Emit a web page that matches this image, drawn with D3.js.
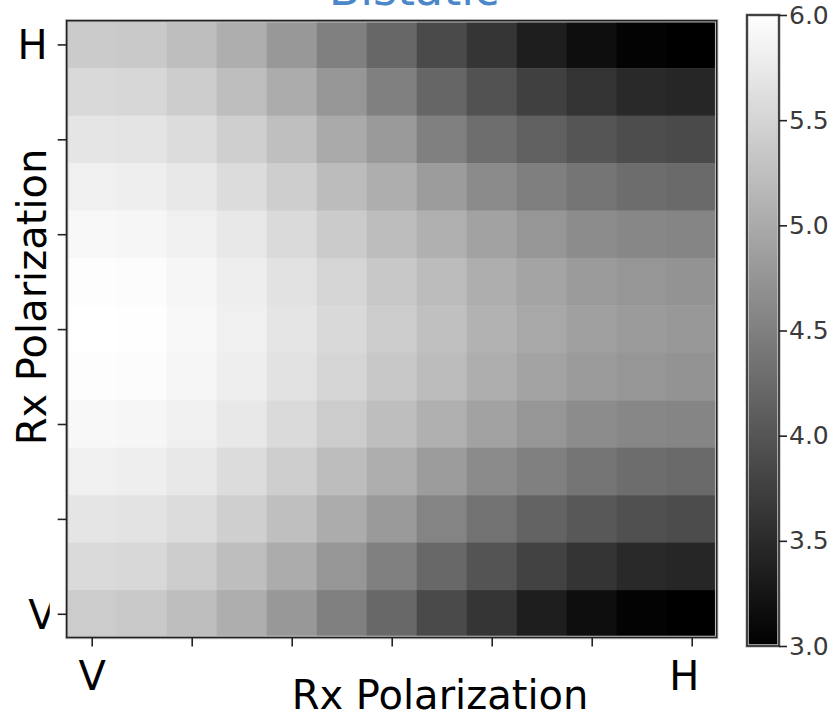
<!DOCTYPE html>
<html>
<head>
<meta charset="utf-8">
<script src="https://cdn.jsdelivr.net/npm/d3@7/dist/d3.min.js"></script>
<style>
  html, body { margin: 0; padding: 0; background: #fff; }
  svg { display: block; }
  text { font-family: "DejaVu Sans", sans-serif; }
</style>
</head>
<body>
<svg id="chart" width="834" height="719"></svg>
<script>
// heatmap values, rows listed top (H) to bottom (V), columns V -> H
const grid = [
  [5.39, 5.36, 5.24, 5.05, 4.79, 4.51, 4.21, 3.87, 3.62, 3.35, 3.16, 3.04, 3.00],
  [5.55, 5.53, 5.41, 5.24, 5.02, 4.76, 4.51, 4.20, 3.96, 3.75, 3.60, 3.48, 3.45],
  [5.69, 5.68, 5.59, 5.43, 5.25, 5.00, 4.81, 4.51, 4.29, 4.13, 4.00, 3.91, 3.87],
  [5.82, 5.80, 5.73, 5.59, 5.42, 5.21, 5.05, 4.84, 4.64, 4.49, 4.38, 4.28, 4.25],
  [5.92, 5.89, 5.82, 5.73, 5.56, 5.39, 5.22, 5.07, 4.91, 4.76, 4.65, 4.59, 4.56],
  [5.98, 5.96, 5.89, 5.80, 5.66, 5.51, 5.35, 5.21, 5.05, 4.93, 4.82, 4.76, 4.73],
  [6.00, 5.99, 5.92, 5.82, 5.69, 5.55, 5.40, 5.26, 5.09, 4.98, 4.88, 4.82, 4.79],
  [5.98, 5.96, 5.89, 5.80, 5.66, 5.51, 5.35, 5.21, 5.05, 4.92, 4.82, 4.76, 4.73],
  [5.92, 5.89, 5.82, 5.73, 5.56, 5.40, 5.24, 5.07, 4.91, 4.76, 4.65, 4.59, 4.56],
  [5.82, 5.80, 5.73, 5.59, 5.42, 5.22, 5.05, 4.84, 4.64, 4.51, 4.38, 4.28, 4.25],
  [5.69, 5.67, 5.59, 5.44, 5.25, 5.02, 4.81, 4.55, 4.34, 4.16, 4.04, 3.94, 3.89],
  [5.56, 5.54, 5.41, 5.24, 5.02, 4.76, 4.51, 4.22, 3.99, 3.78, 3.61, 3.48, 3.45],
  [5.40, 5.37, 5.24, 5.05, 4.79, 4.51, 4.22, 3.87, 3.62, 3.35, 3.16, 3.04, 3.00]
];
const xTickLabels = ['V', '', '', '', '', '', 'H'];
const yTickLabels = ['H', '', '', '', '', '', 'V'];
const colorTicks = [3.0, 3.5, 4.0, 4.5, 5.0, 5.5, 6.0];
const colorDomain = [3, 6];
const title = 'Bistatic';
const axisLabel = 'Rx Polarization';

const svg = d3.select('#chart');

const plot = { left: 66.7, right: 716.7, top: 20.7, bottom: 637.5 };
const cbar = { left: 747, right: 779, top: 15, bottom: 646 };

const nCols = grid[0].length;
const nRows = grid.length;

const x = d3.scaleBand().domain(d3.range(nCols)).range([plot.left, plot.right]);
const y = d3.scaleBand().domain(d3.range(nRows)).range([plot.top, plot.bottom]);
const color = d3.scaleLinear().domain(colorDomain).range(['#000', '#fff']).clamp(true);

// cells
const cells = [];
grid.forEach((row, r) => row.forEach((v, c) => cells.push({ r, c, v })));

svg.append('g').attr('class', 'cells')
  .selectAll('rect')
  .data(cells)
  .join('rect')
  .attr('x', d => x(d.c))
  .attr('y', d => y(d.r))
  .attr('width', x.bandwidth() + 0.5)
  .attr('height', y.bandwidth() + 0.5)
  .attr('fill', d => color(d.v));

// frame with soft halo
function frame(b) {
  svg.append('rect')
    .attr('x', b.left).attr('y', b.top)
    .attr('width', b.right - b.left).attr('height', b.bottom - b.top)
    .attr('fill', 'none').attr('stroke', '#c8c8c8').attr('stroke-width', 3.5);
  svg.append('rect')
    .attr('x', b.left).attr('y', b.top)
    .attr('width', b.right - b.left).attr('height', b.bottom - b.top)
    .attr('fill', 'none').attr('stroke', '#222').attr('stroke-width', 1.6);
}
frame(plot);

// ticks every other cell
const tickIdx = d3.range(0, nCols, 2);
const xAxis = d3.axisBottom(d3.scaleLinear().domain([0, nCols - 1])
    .range([x(0) + x.bandwidth() / 2, x(nCols - 1) + x.bandwidth() / 2]))
  .tickValues(tickIdx)
  .tickSize(9)
  .tickFormat((d, i) => xTickLabels[i]);

const gx = svg.append('g')
  .attr('transform', `translate(0,${plot.bottom})`)
  .call(xAxis);
gx.select('.domain').remove();
gx.selectAll('line').attr('stroke', '#222').attr('stroke-width', 1.6);
gx.selectAll('text')
  .attr('y', 52).attr('dy', 0)
  .attr('fill', '#000')
  .style('font-size', '40px');
gx.selectAll('.tick').filter((d, i) => xTickLabels[i] === 'H')
  .select('text').attr('dx', -8);

const yAxis = d3.axisLeft(d3.scaleLinear().domain([0, nRows - 1])
    .range([y(0) + y.bandwidth() / 2, y(nRows - 1) + y.bandwidth() / 2]))
  .tickValues(tickIdx)
  .tickSize(9)
  .tickFormat((d, i) => yTickLabels[i]);

const gy = svg.append('g')
  .attr('transform', `translate(${plot.left},0)`)
  .call(yAxis);
gy.select('.domain').remove();
gy.selectAll('line').attr('stroke', '#222').attr('stroke-width', 1.6);
gy.selectAll('text')
  .attr('x', -19).attr('dy', '0.36em')
  .attr('fill', '#000')
  .style('font-size', '40px');

// the lowest label is cut on its right side in the original
gy.append('clipPath').attr('id', 'vclip')
  .append('rect').attr('x', -200).attr('y', -40).attr('width', 183).attr('height', 80);
gy.selectAll('.tick').filter((d, i) => yTickLabels[i] === 'V')
  .select('text')
  .attr('x', -11)
  .attr('clip-path', 'url(#vclip)');

// axis labels
svg.append('text')
  .attr('x', 440)
  .attr('y', 709)
  .attr('text-anchor', 'middle')
  .style('font-size', '40px')
  .text(axisLabel);

svg.append('text')
  .attr('transform', 'translate(46,297) rotate(-90)')
  .attr('text-anchor', 'middle')
  .style('font-size', '40px')
  .text(axisLabel);

// title, partly above the canvas
svg.append('text')
  .attr('x', 414)
  .attr('y', 5)
  .attr('text-anchor', 'middle')
  .attr('fill', '#4c87c9')
  .style('font-size', '46px')
  .text(title);

// colorbar
const cy = d3.scaleLinear().domain(colorDomain).range([cbar.bottom, cbar.top]);
const defs = svg.append('defs');
const grad = defs.append('linearGradient')
  .attr('id', 'cgrad')
  .attr('x1', 0).attr('y1', 1).attr('x2', 0).attr('y2', 0);
grad.selectAll('stop')
  .data(colorDomain)
  .join('stop')
  .attr('offset', (d, i) => i)
  .attr('stop-color', d => color(d));

svg.append('rect')
  .attr('x', cbar.left).attr('y', cy(colorDomain[1]))
  .attr('width', cbar.right - cbar.left)
  .attr('height', cy(colorDomain[0]) - cy(colorDomain[1]))
  .attr('fill', 'url(#cgrad)');
frame(cbar);

const gc = svg.append('g')
  .attr('transform', `translate(${cbar.right},0)`)
  .call(d3.axisRight(cy).tickValues(colorTicks).tickSize(8).tickFormat(d3.format('.1f')));
gc.select('.domain').remove();
gc.selectAll('line').attr('stroke', '#222').attr('stroke-width', 1.6);
gc.selectAll('text')
  .attr('x', 10)
  .attr('fill', '#3a3a3a')
  .style('font-size', '25px');
</script>
</body>
</html>
